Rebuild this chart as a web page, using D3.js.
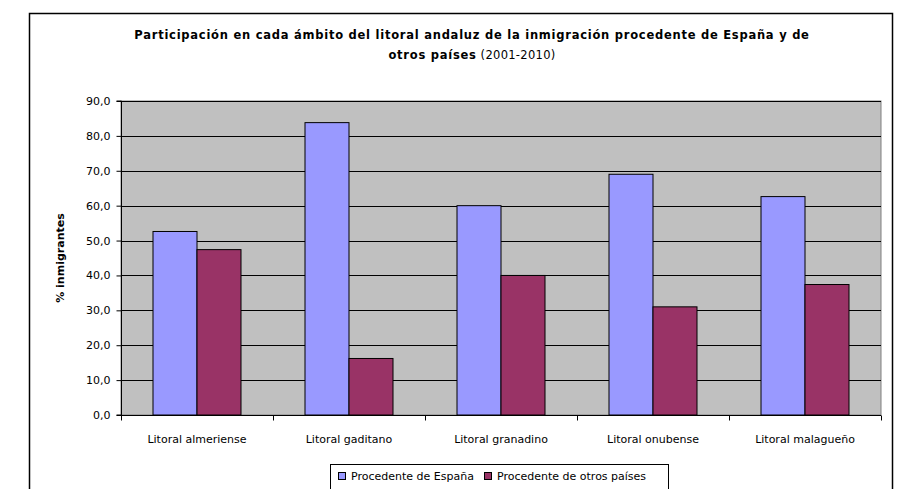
<!DOCTYPE html>
<html>
<head>
<meta charset="utf-8">
<script src="https://cdn.jsdelivr.net/npm/d3@7"></script>
<style>
    body { margin: 0; background: #fff; }
    svg text { font-family: "DejaVu Sans", Verdana, sans-serif; }
</style>
</head>
<body>
<div id="graph"></div>
<script>
"use strict";
(function() {
    const categories = ["Litoral almeriense", "Litoral gaditano", "Litoral granadino",
                        "Litoral onubense", "Litoral malagueño"];
    const seriesNames = ["Procedente de España", "Procedente de otros países"];
    const espana = [52.6, 83.8, 60.0, 69.0, 62.6];
    const otros = [47.4, 16.2, 40.0, 31.0, 37.4];
    const yTicks = [0, 10, 20, 30, 40, 50, 60, 70, 80, 90];

    const svgSize = { width: 912, height: 489 };
    const plot = { left: 121, top: 101, right: 881, bottom: 415 };
    const colors = ["#9999FF", "#993366"];

    window.addEventListener("load", init);

    function init() {
        let svg = d3.select("#graph")
                    .append("svg")
                        .attr("width", svgSize.width)
                        .attr("height", svgSize.height);

        // outer chart frame
        svg.append("rect")
            .attr("x", 29.5).attr("y", 13.5)
            .attr("width", 863).attr("height", 500)
            .attr("fill", "#fff")
            .attr("stroke", "#000").attr("stroke-width", 1.5);

        // title
        let title = svg.append("text")
            .attr("text-anchor", "middle")
            .attr("font-size", 11.5)
            .attr("letter-spacing", 0.75);
        title.append("tspan")
            .attr("x", 472).attr("y", 39)
            .attr("font-weight", "bold")
            .text("Participación en cada ámbito del litoral andaluz de la inmigración procedente de España y de");
        let t2 = title.append("tspan").attr("x", 472).attr("y", 59);
        t2.append("tspan").attr("font-weight", "bold").text("otros países");
        t2.append("tspan").attr("letter-spacing", 0.3).text(" (2001-2010)");

        let x0 = d3.scaleBand()
            .domain(categories)
            .range([plot.left, plot.right]);
        // bars are 44px wide with 32px gaps on each side
        let x1 = d3.scaleBand()
            .domain(seriesNames)
            .range([32, x0.bandwidth() - 32])
            .padding(0);

        let y = d3.scaleLinear()
            .domain([0, 90])
            .range([plot.bottom, plot.top]);

        // plot area
        svg.append("rect")
            .attr("x", plot.left).attr("y", plot.top)
            .attr("width", plot.right - plot.left)
            .attr("height", plot.bottom - plot.top)
            .attr("fill", "#C0C0C0")
            .attr("stroke", "#808080");

        // gridlines
        svg.append("g")
            .selectAll("line")
            .data(yTicks.filter(d => d > 0))
            .enter()
            .append("line")
                .attr("x1", plot.left).attr("x2", plot.right)
                .attr("y1", d => Math.round(y(d)) + 0.5)
                .attr("y2", d => Math.round(y(d)) + 0.5)
                .attr("stroke", "#000");

        // bars
        let rows = categories.map((c, i) => ({ cat: c, vals: [espana[i], otros[i]] }));
        let groups = svg.append("g")
            .selectAll("g")
            .data(rows)
            .enter()
            .append("g")
                .attr("transform", d => "translate(" + x0(d.cat) + ",0)");
        groups.selectAll("rect")
            .data(d => d.vals.map((v, j) => ({ name: seriesNames[j], v: v, j: j })))
            .enter()
            .append("rect")
                .attr("x", d => x1(d.name))
                .attr("y", d => y(d.v))
                .attr("width", x1.bandwidth())
                .attr("height", d => y(0) - y(d.v))
                .attr("fill", d => colors[d.j])
                .attr("stroke", "#000")
                .attr("stroke-width", 1);

        // y axis
        let yAxis = svg.append("g")
            .attr("transform", "translate(" + (plot.left + 0.5) + ",0)")
            .call(d3.axisLeft(y)
                .tickValues(yTicks)
                .tickSize(5)
                .tickPadding(6)
                .tickFormat(d => d3.format(".1f")(d).replace(".", ",")));
        yAxis.select(".domain").attr("d", "M-5," + plot.top + "H0V" + plot.bottom + "H-5");
        yAxis.selectAll("text").attr("font-size", 11).attr("fill", "#000")
            .style("font-family", "'DejaVu Sans', Verdana, sans-serif");

        // x axis
        let xAxis = svg.append("g")
            .attr("transform", "translate(0," + (plot.bottom + 0.5) + ")")
            .call(d3.axisBottom(x0).tickSize(0).tickPadding(20));
        xAxis.select(".domain").attr("d", "M" + plot.left + ",0H" + plot.right);
        xAxis.selectAll("text").attr("font-size", 11).attr("fill", "#000")
            .style("font-family", "'DejaVu Sans', Verdana, sans-serif");
        xAxis.append("g")
            .selectAll("line")
            .data(d3.range(categories.length + 1))
            .enter()
            .append("line")
                .attr("x1", i => Math.round(plot.left + i * x0.step()) + 0.5)
                .attr("x2", i => Math.round(plot.left + i * x0.step()) + 0.5)
                .attr("y1", 0).attr("y2", 5)
                .attr("stroke", "#000");

        // y label
        svg.append("text")
            .attr("transform", "translate(64," + ((plot.top + plot.bottom) / 2) + ") rotate(-90)")
            .attr("text-anchor", "middle")
            .attr("font-size", 11)
            .attr("font-weight", "bold")
            .text("% inmigrantes");

        // legend
        let lg = svg.append("g");
        lg.append("rect")
            .attr("x", 330.5).attr("y", 464.5)
            .attr("width", 338).attr("height", 40)
            .attr("fill", "#fff").attr("stroke", "#000");
        let items = lg.selectAll("g")
            .data(seriesNames)
            .enter()
            .append("g")
                .attr("transform", (d, i) => "translate(" + (i === 0 ? 338 : 484) + ",472)");
        items.append("rect")
            .attr("x", 0.5).attr("y", 0.5)
            .attr("width", 7).attr("height", 7)
            .attr("fill", (d, i) => colors[i])
            .attr("stroke", "#000");
        items.append("text")
            .attr("x", 13).attr("y", 8)
            .attr("font-size", 11)
            .text(d => d);
    }
})();
</script>
</body>
</html>
